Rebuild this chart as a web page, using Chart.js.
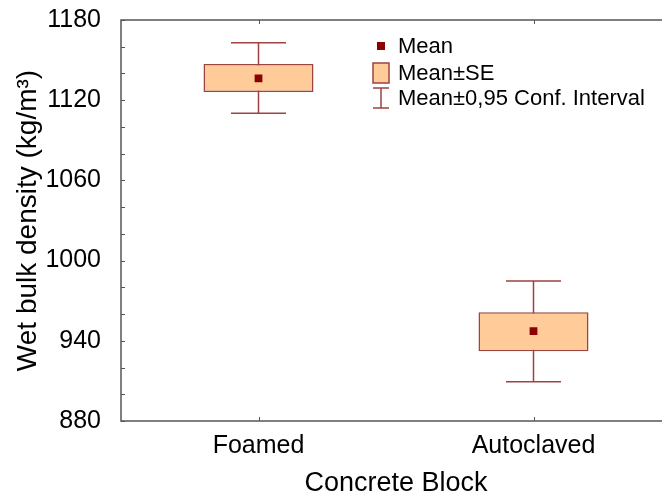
<!DOCTYPE html>
<html>
<head>
<meta charset="utf-8">
<script src="https://cdn.jsdelivr.net/npm/chart.js@4.4.1/dist/chart.umd.min.js"></script>
<style>
  html, body { margin: 0; padding: 0; background: #fff; overflow: hidden; }
  #wrap { width: 690px; height: 497px; }
</style>
</head>
<body>
<div id="wrap"><canvas id="chart" width="690" height="497"></canvas></div>
<script>
// data
var categories = ["Foamed", "Autoclaved"];
var means  = [1136.4, 947.2];
var seLow  = [1126.1, 932.2];
var seHigh = [1147.1, 961.4];
var ciLow  = [1110.2, 909.3];
var ciHigh = [1163.0, 984.8];

var yMin = 880, yMax = 1180, yStep = 60, yMinorStep = 20;
var legendLabels = ["Mean", "Mean\u00b1SE", "Mean\u00b10,95 Conf. Interval"];

var FONT = "'Liberation Sans', Arial, sans-serif";
var boxFill = "#FFCC99";
var boxLine = "#9A4444";
var whiskerColor = "#A04242";
var meanColor = "#8B0000";
var frameColor = "#555555";

// whiskers behind the boxes, frame + inner ticks + legend on top
var decorations = {
  id: "decorations",
  beforeDatasetsDraw: function(chart) {
    var ctx = chart.ctx;
    var x = chart.scales.x, y = chart.scales.y;
    var bars = chart.getDatasetMeta(0).data;
    ctx.save();
    ctx.strokeStyle = whiskerColor;
    ctx.lineWidth = 1.5;
    for (var i = 0; i < categories.length; i++) {
      var cx = x.getPixelForValue(i);
      var half = bars[i].width / 4;
      var top = y.getPixelForValue(ciHigh[i]);
      var bot = y.getPixelForValue(ciLow[i]);
      ctx.beginPath();
      ctx.moveTo(cx, top); ctx.lineTo(cx, bot);
      ctx.moveTo(cx - half, top); ctx.lineTo(cx + half, top);
      ctx.moveTo(cx - half, bot); ctx.lineTo(cx + half, bot);
      ctx.stroke();
    }
    ctx.restore();
  },
  afterDraw: function(chart) {
    var ctx = chart.ctx;
    var a = chart.chartArea;
    var x = chart.scales.x, y = chart.scales.y;
    ctx.save();
    // keep the cut-off right side clean
    ctx.fillStyle = "#fff";
    ctx.fillRect(652, a.top, chart.width - 652, a.bottom - a.top);
    // frame: left, top, bottom (right side is cut off in the original)
    ctx.strokeStyle = frameColor;
    ctx.lineWidth = 1.5;
    ctx.beginPath();
    ctx.moveTo(a.right, a.top); ctx.lineTo(a.left, a.top);
    ctx.lineTo(a.left, a.bottom); ctx.lineTo(a.right, a.bottom);
    ctx.stroke();
    // inward ticks on y axis
    ctx.lineWidth = 1;
    ctx.beginPath();
    for (var v = yMin; v <= yMax; v += yMinorStep) {
      var py = Math.round(y.getPixelForValue(v)) + 0.5;
      ctx.moveTo(a.left, py); ctx.lineTo(a.left + 4, py);
    }
    // inward ticks on x axis, top and bottom
    for (var i = 0; i < categories.length; i++) {
      var px = Math.round(x.getPixelForValue(i)) + 0.5;
      ctx.moveTo(px, a.bottom); ctx.lineTo(px, a.bottom - 4);
      ctx.moveTo(px, a.top); ctx.lineTo(px, a.top + 4);
    }
    ctx.stroke();

    // legend
    var lx = 381, tx = 398;
    var rows = [46, 73, 98];
    ctx.font = "22px " + FONT;
    ctx.fillStyle = "#000";
    ctx.textBaseline = "middle";
    for (var r = 0; r < legendLabels.length; r++) {
      ctx.fillText(legendLabels[r], tx, rows[r] + 1);
    }
    // mean marker
    ctx.fillStyle = meanColor;
    ctx.fillRect(lx - 4, rows[0] - 4, 8, 8);
    // SE box
    ctx.fillStyle = boxFill;
    ctx.strokeStyle = boxLine;
    ctx.lineWidth = 1.5;
    ctx.fillRect(lx - 8, rows[1] - 10, 16, 20);
    ctx.strokeRect(lx - 8, rows[1] - 10, 16, 20);
    // CI whisker
    ctx.strokeStyle = whiskerColor;
    ctx.beginPath();
    ctx.moveTo(lx, rows[2] - 10); ctx.lineTo(lx, rows[2] + 10);
    ctx.moveTo(lx - 8, rows[2] - 10); ctx.lineTo(lx + 8, rows[2] - 10);
    ctx.moveTo(lx - 8, rows[2] + 10); ctx.lineTo(lx + 8, rows[2] + 10);
    ctx.stroke();
    ctx.restore();
  }
};

var ctx = document.getElementById("chart");

var chartData = {
  labels: categories,
  datasets: [{
    type: "bar",
    label: "Mean\u00b1SE",
    data: categories.map(function(c, i) { return [seLow[i], seHigh[i]]; }),
    backgroundColor: boxFill,
    borderColor: boxLine,
    borderWidth: 1.5,
    borderSkipped: false,
    barPercentage: 0.4,
    categoryPercentage: 1.0,
    order: 2
  }, {
    type: "line",
    label: "Mean",
    data: means,
    showLine: false,
    pointStyle: "rect",
    pointRadius: 5.5,
    pointBackgroundColor: meanColor,
    pointBorderColor: meanColor,
    pointBorderWidth: 0,
    order: 1
  }]
};

var config = {
  type: "bar",
  data: chartData,
  options: {
    responsive: false,
    animation: false,
    layout: { autoPadding: false, padding: { left: 0, right: 19, top: 20, bottom: 0 } },
    plugins: {
      legend: { display: false },
      tooltip: { enabled: false }
    },
    scales: {
      x: {
        grid: { display: false },
        border: { display: false },
        ticks: { color: "#000", font: { family: FONT, size: 25 }, padding: 2 },
        title: {
          display: true,
          text: "Concrete Block",
          color: "#000",
          font: { family: FONT, size: 27, lineHeight: 1 },
          padding: { top: 0, bottom: 0 }
        },
        afterFit: function(s) { s.height = 76; }
      },
      y: {
        min: yMin,
        max: yMax,
        grid: { display: false },
        border: { display: false },
        ticks: {
          stepSize: yStep,
          color: "#000",
          font: { family: FONT, size: 25 },
          padding: 12,
          callback: function(v) { return String(v); }
        },
        title: {
          display: true,
          text: "Wet bulk density (kg/m\u00b3)",
          color: "#000",
          font: { family: FONT, size: 28 },
          padding: { top: 11, bottom: 0 }
        },
        afterFit: function(s) { s.width = 121; s.paddingTop = 0; s.paddingBottom = 0; }
      }
    }
  },
  plugins: [decorations]
};

var densityChart = new Chart(ctx, config);
</script>
</body>
</html>
